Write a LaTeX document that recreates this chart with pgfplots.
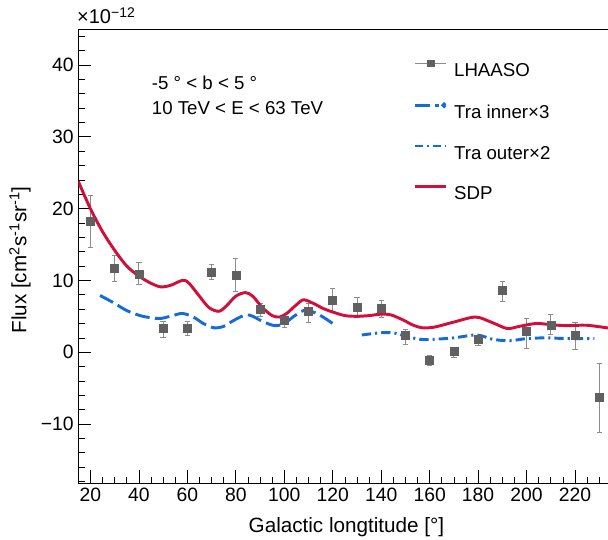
\documentclass[border=0pt]{standalone}
\usepackage{fontspec}
\setmainfont{Liberation Sans}
\usepackage{pgfplots}
\pgfplotsset{compat=1.18}
\usepackage{pgfplotstable}
\definecolor{sdp}{RGB}{208,16,58}
\definecolor{trablue}{RGB}{22,108,214}
\definecolor{mkgray}{RGB}{96,96,96}
\definecolor{errgray}{RGB}{140,140,140}

\pgfplotstableread{
l v ep em
20 18.3 3.6 3.7
30 11.7 1.8 1.8
40 10.9 1.6 1.4
50 3.3 1.0 1.2
60 3.4 0.9 1.1
70 11.2 1.0 1.1
80 10.7 2.3 2.2
90 6.0 0.8 1.0
100 4.4 0.9 1.0
110 5.7 1.1 1.5
120 7.3 1.6 1.7
130 6.3 1.3 1.4
140 6.1 1.1 1.2
150 2.3 0.9 1.2
160 -1.1 0.7 0.8
170 0.1 0.6 0.8
180 1.8 0.6 0.8
190 8.6 1.3 1.5
200 2.9 1.8 2.3
210 3.8 1.4 1.3
220 2.3 1.8 1.9
230 -6.3 4.8 4.8
}\lhaaso

\pgfplotstableread{
l v
15 23.8
20 20.0
25 16.8
30 14.2
35 12.0
40 10.6
45 9.6
49 9.1
53 9.3
57 9.9
59 10.0
61 9.5
65 7.8
69 6.2
73 5.7
76 6.4
80 7.8
84 8.3
87 7.8
91 6.2
95 5.1
98 4.9
101 5.4
105 6.6
108 7.3
112 6.8
116 6.1
120 5.6
125 5.1
130 5.0
135 5.1
140 5.3
144 5.2
149 4.5
153 3.8
157 3.4
162 3.5
170 4.2
179 4.9
186 4.1
192 3.3
197 3.6
204 4.0
211 3.8
217 3.7
225 3.75
235 3.3
}\sdp

\pgfplotstableread{
l v
24 7.9
29.5 6.9
35 5.8
40.5 5.1
45 4.8
49 4.7
54 5.1
58 5.4
62.5 4.9
66.6 4.0
71 3.4
75 3.6
79 4.4
84 5.2
87 5.0
91 4.3
96 3.7
100 4.0
104 5.0
108 5.8
112 5.6
116 4.9
120 4.0
}\trainner

\pgfplotstableread{
l v
132 2.4
139.5 2.7
145 2.7
150.6 2.2
156 1.8
161.5 1.8
170 2.0
179.4 2.4
186 1.8
193 1.6
200 1.9
208 2.0
216.6 1.9
228 1.9
}\traouter

\begin{document}
\begin{tikzpicture}
\begin{axis}[name=ax, scale only axis, width=399.9pt, height=340.5pt,
  xmin=15, xmax=235, ymin=-18.2, ymax=45,
  xtick={20,40,...,220}, ytick={-10,0,10,20,30,40},
  yticklabels={−10,0,10,20,30,40},
  minor xtick={15,20,...,235}, minor ytick={-18,-16,...,44},
  tick pos=left, tick align=inside,
  major tick length=9.5pt, minor tick length=4.8pt,
  tick style={black, line width=0.5pt},
  axis line style={line width=0.6pt},
  ticklabel style={font=\fontsize{14.5}{17}\selectfont},
  /pgf/number format/assume math mode=true,
  xlabel={Galactic longtitude [°]},
  ylabel={Flux [cm\textsuperscript{2}s\textsuperscript{-1}sr\textsuperscript{-1}]},
  xlabel style={at={(rel axis cs:0.503,-0.097)}, anchor=center, font=\fontsize{15.5}{18}\selectfont},
  ylabel style={at={(rel axis cs:-0.1095,0.491)}, anchor=center, font=\fontsize{15.5}{18}\selectfont},
  legend style={at={(rel axis cs:0.622,0.939)}, anchor=north west, draw=none, fill=none,
    font=\fontsize{14}{16}\selectfont, row sep=19.5pt, column sep=5pt,
    nodes={inner sep=0pt, text height=10pt, text depth=0pt}},
  legend cell align=left,
]
\addplot[only marks, mark=square*, mark size=3pt, color=mkgray,
  error bars/.cd, y dir=both, y explicit,
  error bar style={errgray, line width=0.6pt},
  error mark options={rotate=90, mark size=2pt, errgray, line width=0.6pt},
  /pgfplots/legend image code/.code={\draw[errgray, line width=0.7pt] (0pt,5pt) -- (23pt,5pt); \fill[mkgray] (9pt,2.5pt) rectangle (14pt,7.5pt);},
  ]
  table[x=l, y=v, y error plus=ep, y error minus=em] {\lhaaso};
\addlegendentry{LHAASO}
\addplot[trablue, line width=2.2pt, smooth, dash pattern=on 11pt off 4pt,
  legend image code/.code={\draw[trablue, line width=2pt] (0pt,5pt) -- (18pt,5pt); \fill[trablue] (21.5pt,5pt) circle (0.9pt);}]
  table[x=l, y=v] {\trainner};
\addlegendentry{Tra inner×3}
\addplot[trablue, line width=2.2pt, smooth, dash pattern=on 7pt off 3pt on 1.6pt off 3pt,
  legend image code/.code={\draw[trablue, line width=2pt, dash pattern=on 6pt off 3pt on 1.5pt off 3pt] (0pt,5pt) -- (23pt,5pt);}]
  table[x=l, y=v] {\traouter};
\addlegendentry{Tra outer×2}
\addplot[sdp, line width=2.2pt, smooth,
  legend image code/.code={\draw[sdp, line width=2pt] (0pt,5pt) -- (23pt,5pt);}]
  table[x=l, y=v] {\sdp};
\addlegendentry{SDP}
\node[anchor=base west, font=\fontsize{14}{16}\selectfont, inner sep=0pt] at (axis cs:45.3,36.6) {-5 ° < b < 5 °};
\node[anchor=base west, font=\fontsize{14}{16}\selectfont, inner sep=0pt] at (axis cs:45.3,33.1) {10 TeV < E < 63 TeV};
\end{axis}
\node[anchor=base west, inner sep=0pt, font=\fontsize{15}{17}\selectfont] at ([xshift=-1pt, yshift=3.75pt]ax.north west) {×10\textsuperscript{−12}};
\pgfresetboundingbox
\path[use as bounding box] ([xshift=-58.7pt, yshift=-42.75pt]ax.south west) rectangle ([xshift=-2.55pt, yshift=21.75pt]ax.north east);
\end{tikzpicture}
\end{document}
